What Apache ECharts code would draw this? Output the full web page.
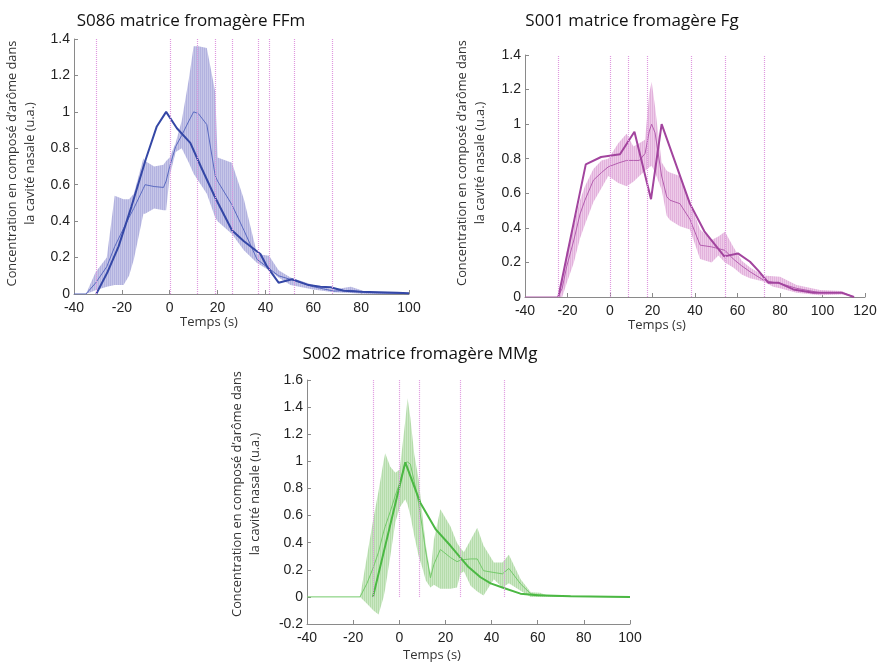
<!DOCTYPE html>
<html>
<head>
<meta charset="utf-8">
<script src="https://cdn.jsdelivr.net/npm/echarts@6/dist/echarts.min.js"></script>
<style>
html,body{margin:0;padding:0;background:#fff;}
#chart{width:883px;height:663px;}
</style>
</head>
<body>
<div id="chart"></div>
<script>
// ---------- DATA ----------
// Panel 1 : S086 matrice fromagère FFm
const p1Title = 'S086 matrice fromagère FFm';
const p1BandX = [-40,-35,-31,-26.3,-23,-19.3,-17,-15,-11,-10.3,-6.5,-2.6,-1.5,0,2.5,5,8,10,12,15.5,19,20,26,31,36.5,41.5,45.5,50.5,60,68.5,75.7,82,90,100];
const p1Lo   = [0,0,0.02,0.04,0.05,0.05,0.10,0.19,0.44,0.44,0.47,0.46,0.46,0.65,0.78,0.80,0.72,0.66,0.62,0.55,0.42,0.40,0.33,0.24,0.17,0.13,0.09,0.05,0.025,0.01,0.005,0,0,0];
const p1Mean = [0,0,0.06,0.15,0.26,0.36,0.42,0.47,0.58,0.60,0.59,0.585,0.62,0.70,0.81,0.87,0.95,1.0,0.99,0.93,0.65,0.62,0.49,0.35,0.19,0.14,0.10,0.08,0.04,0.016,0.02,0.008,0.005,0.002];
const p1Hi   = [0,0,0.12,0.20,0.54,0.52,0.52,0.55,0.745,0.73,0.70,0.71,0.73,0.75,0.83,0.95,1.18,1.36,1.36,1.35,1.11,0.75,0.72,0.52,0.22,0.21,0.13,0.09,0.05,0.025,0.04,0.012,0.008,0.004];
const p1ThickX = [-30.7,-26,-21.4,-16,-10,-5.4,-1.5,3,8.6,13,19,26,31,37.9,40.7,45.5,51.1,58.1,63,67.2,72.7,79.7,95,100];
const p1ThickY = [0,0.12,0.26,0.48,0.74,0.92,1.0,0.91,0.83,0.70,0.53,0.35,0.29,0.22,0.15,0.062,0.081,0.049,0.04,0.037,0.018,0.013,0.007,0.004];
const p1Marks = [-30.8,0.2,11.6,19.0,26.3,37.0,41.8,52.0,68.0];

// Panel 2 : S001 matrice fromagère Fg
const p2Title = 'S001 matrice fromagère Fg';
const p2BandX = [-40,-24.5,-22.5,-20.4,-17,-14.1,-11.8,-7.8,-4,-0.8,3.9,7.8,11,13.8,16.5,18.5,19.6,21.2,24.3,26.7,28.2,32.9,37.6,42.4,47.8,51,54.1,58,62,65.9,72.2,76.8,80,87.8,98.8,109,115];
const p2Lo   = [0,0,0,0.08,0.20,0.34,0.42,0.55,0.63,0.70,0.66,0.64,0.667,0.70,0.73,0.75,0.76,0.72,0.62,0.47,0.445,0.41,0.39,0.22,0.20,0.24,0.20,0.17,0.13,0.108,0.089,0.06,0.05,0.025,0.01,0.015,0];
const p2Mean = [0,0,0.05,0.175,0.33,0.48,0.56,0.676,0.72,0.753,0.775,0.79,0.79,0.79,0.83,0.96,1.0,0.95,0.70,0.58,0.56,0.54,0.45,0.30,0.29,0.28,0.27,0.22,0.18,0.146,0.098,0.085,0.079,0.05,0.025,0.025,0];
const p2Hi   = [0,0,0.10,0.26,0.42,0.56,0.64,0.74,0.79,0.80,0.89,0.945,0.87,0.89,0.91,1.18,1.245,1.10,0.78,0.73,0.72,0.70,0.55,0.39,0.33,0.35,0.378,0.29,0.21,0.17,0.125,0.12,0.117,0.07,0.04,0.035,0];
const p2ThickX = [-24.3,-11.4,-4.2,4.7,11.5,19.3,24.3,37.6,44.4,53.8,60.2,65.9,70,74.5,79.2,86.3,95.7,109,114.8];
const p2ThickY = [0,0.767,0.81,0.826,0.956,0.566,1.0,0.54,0.38,0.235,0.252,0.204,0.15,0.083,0.083,0.044,0.025,0.025,0];
const p2Marks = [-24.3,0,8.6,17.6,38.0,54.1,72.5];

// Panel 3 : S002 matrice fromagère MMg
const p3Title = 'S002 matrice fromagère MMg';
const p3BandX = [-40,-17,-14,-11.2,-9,-6.8,-6.1,-3.9,-1.7,0.2,2.6,3.6,4.8,6.5,8.4,9.9,11.5,13.5,15,17.8,22.2,25,26.5,28,30.9,33.8,36.5,41,44.7,47.5,52.6,57,61,64,70,100];
const p3Lo   = [0,0,-0.05,-0.10,-0.13,0.0,0.06,0.30,0.55,0.66,0.72,0.68,0.60,0.45,0.30,0.22,0.12,0.07,0.09,0.06,0.06,0.07,0.17,0.19,0.083,0.04,0.01,0.13,0.07,0.10,0.045,0,0,0,0,0];
const p3Mean = [0,0,0.10,0.22,0.33,0.48,0.52,0.63,0.75,0.84,0.99,0.995,0.98,0.85,0.69,0.52,0.33,0.14,0.24,0.35,0.29,0.26,0.27,0.275,0.28,0.28,0.193,0.18,0.17,0.21,0.095,0.022,0.015,0.01,0.005,0];
const p3Hi   = [0,0,0.30,0.58,0.78,1.0,1.06,0.96,0.915,0.94,1.30,1.466,1.32,1.05,0.866,0.62,0.38,0.17,0.42,0.646,0.52,0.40,0.36,0.33,0.42,0.51,0.38,0.254,0.254,0.31,0.13,0.034,0.03,0.01,0.005,0];
const p3ThickX = [-11.4,2.6,9.1,15.7,22.2,26.5,30,35.2,39.6,45.3,52.5,59.8,74.3,100];
const p3ThickY = [0,0.993,0.695,0.5,0.377,0.29,0.22,0.145,0.10,0.066,0.024,0.012,0.005,0];
const p3Marks = [-11.3,0,8.8,26.4,45.3];

const yName = 'Concentration en composé d’arôme dans\nla cavité nasale (u.a.)';
const xName = 'Temps (s)';

// ---------- STYLE HELPERS ----------
function hatch(base, line) {
  const c = document.createElement('canvas');
  c.width = 2; c.height = 4;
  const g = c.getContext('2d');
  g.fillStyle = base; g.fillRect(0, 0, 2, 4);
  g.fillStyle = line; g.fillRect(0, 0, 1, 4);
  return c;
}
const panels = [
  {title:p1Title, bx:p1BandX, lo:p1Lo, mean:p1Mean, hi:p1Hi, tx:p1ThickX, ty:p1ThickY, marks:p1Marks,
   grid:{left:74, top:39, width:335, height:255}, xMin:-40, xMax:100, yMin:0, yMax:1.4, markTop:1.4,
   thick:'#3447a6', thin:'#5a6ac0', band:hatch('#c6c6e8','#b2b2df'),
   titlePos:[191,21], yGap:35, yShift:6, xShift:65, xGap:22},
  {title:p2Title, bx:p2BandX, lo:p2Lo, mean:p2Mean, hi:p2Hi, tx:p2ThickX, ty:p2ThickY, marks:p2Marks,
   grid:{left:525, top:55, width:340, height:242}, xMin:-40, xMax:120, yMin:0, yMax:1.4, markTop:1.4,
   thick:'#a2449e', thin:'#b45eaf', band:hatch('#eecbe9','#e2b2dc'),
   titlePos:[632,21], yGap:36, yShift:26, xShift:76, xGap:22},
  {title:p3Title, bx:p3BandX, lo:p3Lo, mean:p3Mean, hi:p3Hi, tx:p3ThickX, ty:p3ThickY, marks:p3Marks,
   grid:{left:307, top:380, width:323, height:246}, xMin:-40, xMax:100, yMin:-0.2, yMax:1.6, markTop:1.6,
   thick:'#4bb843', thin:'#74ca6a', band:hatch('#cbe8c4','#b5dcab'),
   titlePos:[420,354], yGap:43, yShift:16, xShift:73, xGap:25}
];

const AX = '#8a8a8a';
const option = {
  animation: false,
  backgroundColor: '#fff',
  grid: [], xAxis: [], yAxis: [], series: [], graphic: []
};

panels.forEach((p, i) => {
  option.grid.push(Object.assign({containLabel:false}, p.grid));
  option.xAxis.push({
    type:'value', gridIndex:i, min:p.xMin, max:p.xMax, interval:20,
    axisLine:{show:true, onZero:false, lineStyle:{color:AX, width:1}},
    axisTick:{show:true, inside:true, length:4, lineStyle:{color:AX}},
    splitLine:{show:false},
    axisLabel:{color:'#222', fontSize:14, fontFamily:'Liberation Sans', margin:7},
    name:xName, nameLocation:'middle', nameGap:p.xGap,
    nameTextStyle:{color:'#333', fontSize:13, fontFamily:'Open Sans', padding:[0,p.xShift,0,0]}
  });
  option.yAxis.push({
    type:'value', gridIndex:i, min:p.yMin, max:p.yMax, interval:0.2,
    axisLine:{show:true, onZero:false, lineStyle:{color:AX, width:1}},
    axisTick:{show:true, inside:true, length:4, lineStyle:{color:AX}},
    splitLine:{show:false},
    axisLabel:{color:'#222', fontSize:14, fontFamily:'Liberation Sans', margin:4},
    name:yName, nameLocation:'middle', nameGap:p.yGap, nameRotate:90,
    nameTextStyle:{color:'#333', fontSize:12.8, lineHeight:18, fontFamily:'Open Sans', padding:[0,0,0,p.yShift]}
  });
  // shaded band (mean ± spread)
  const bx = p.bx, lo = p.lo, hi = p.hi, pat = p.band;
  option.series.push({
    type:'custom', xAxisIndex:i, yAxisIndex:i, z:1, silent:true,
    data: bx.map((x, k) => [x, lo[k], hi[k]]),
    encode:{x:0, y:[1,2]},
    renderItem: function(params, api) {
      if (params.dataIndex !== 0) return null;
      const pts = [];
      for (let k = 0; k < bx.length; k++) pts.push(api.coord([bx[k], hi[k]]));
      for (let k = bx.length - 1; k >= 0; k--) pts.push(api.coord([bx[k], lo[k]]));
      return {type:'polygon', shape:{points:pts}, style:{fill:{image:pat, repeat:'repeat'}, stroke:null}};
    }
  });
  // thin mean line
  option.series.push({
    type:'line', xAxisIndex:i, yAxisIndex:i, z:3, symbol:'none', silent:true,
    data: bx.map((x, k) => [x, p.mean[k]]),
    lineStyle:{color:p.thin, width:1}
  });
  // thick line
  option.series.push({
    type:'line', xAxisIndex:i, yAxisIndex:i, z:4, symbol:'none', silent:true,
    data: p.tx.map((x, k) => [x, p.ty[k]]),
    lineStyle:{color:p.thick, width:2}
  });
  // dotted vertical event lines
  option.series.push({
    type:'line', xAxisIndex:i, yAxisIndex:i, z:5, data:[], silent:true,
    markLine:{
      silent:true, symbol:['none','none'], label:{show:false}, animation:false,
      lineStyle:{color:'#df98df', width:1.2, type:[1,1]},
      data: p.marks.map(m => [{coord:[m, 0]}, {coord:[m, p.markTop]}])
    }
  });
  option.graphic.push({
    type:'text', x:p.titlePos[0], y:p.titlePos[1],
    style:{text:p.title, fill:'#111', font:'17px "Open Sans"', align:'center', verticalAlign:'middle'}
  });
});

const chart = echarts.init(document.getElementById('chart'), null, {renderer:'canvas'});
chart.setOption(option);
</script>
</body>
</html>
